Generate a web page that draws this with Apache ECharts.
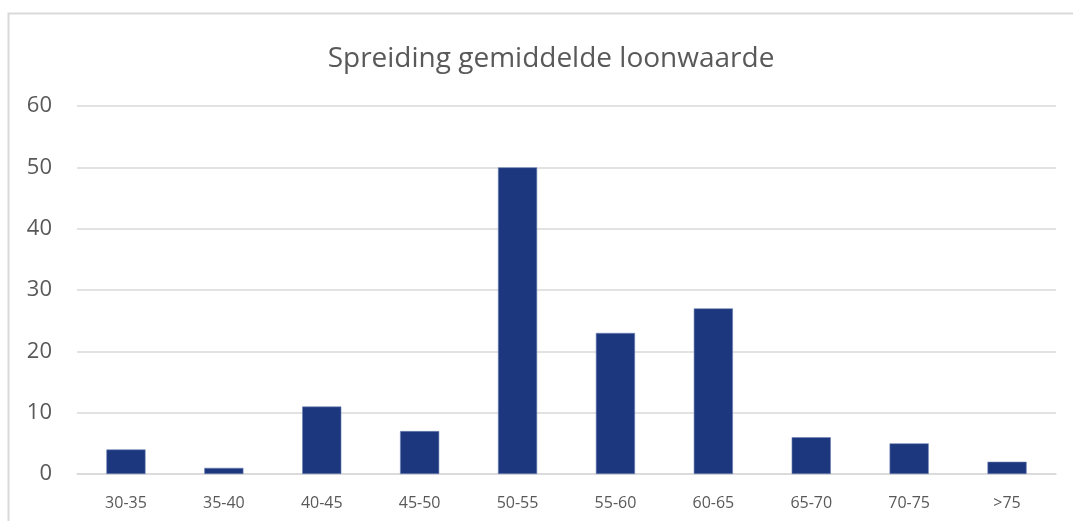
<!DOCTYPE html>
<html>
<head>
<meta charset="utf-8">
<script src="https://cdn.jsdelivr.net/npm/echarts@6/dist/echarts.min.js"></script>
<style>
    html, body { margin: 0; padding: 0; background: #fff; }
    #chart { width: 1073px; height: 521px; }
</style>
</head>
<body>
<div id="chart"></div>
<script>
    // klassen en aantallen
    const categories = ['30-35', '35-40', '40-45', '45-50', '50-55', '55-60', '60-65', '65-70', '70-75', '>75'];
    const counts = [4, 1, 11, 7, 50, 23, 27, 6, 5, 2];
    const yTicks = [0, 10, 20, 30, 40, 50, 60];

    const textColor = '#595959';
    const gridColor = '#d9d9d9';

    const chart = echarts.init(document.getElementById('chart'), null, { renderer: 'canvas' });

    chart.setOption({
        animation: false,
        textStyle: { fontFamily: 'Open Sans' },
        title: {
            text: 'Spreiding gemiddelde loonwaarde',
            left: 546,
            top: 40,
            textAlign: 'center',
            textStyle: { fontSize: 28, fontWeight: 'normal', color: textColor, fontFamily: 'Open Sans' }
        },
        graphic: [{
            type: 'rect',
            shape: { x: 8.5, y: 13.5, width: 1100, height: 600 },
            style: { fill: 'none', stroke: gridColor, lineWidth: 2 },
            silent: true
        }],
        grid: { left: 77, right: 17, top: 106, bottom: 47 },
        xAxis: {
            type: 'category',
            data: categories,
            axisLine: { show: true, lineStyle: { color: gridColor, width: 1.5 } },
            axisTick: { show: false },
            axisLabel: { color: textColor, fontSize: 16, margin: 21 }
        },
        yAxis: {
            type: 'value',
            min: yTicks[0],
            max: yTicks[yTicks.length - 1],
            interval: 10,
            axisLine: { show: false },
            axisTick: { show: false },
            splitLine: { lineStyle: { color: gridColor, width: 1.5 } },
            axisLabel: { color: textColor, fontSize: 22, margin: 25 }
        },
        series: [{
            type: 'bar',
            data: counts,
            barWidth: '40%',
            itemStyle: { color: '#1c377d', borderColor: '#6f83b5', borderWidth: 0.6 }
        }]
    });
</script>
</body>
</html>
